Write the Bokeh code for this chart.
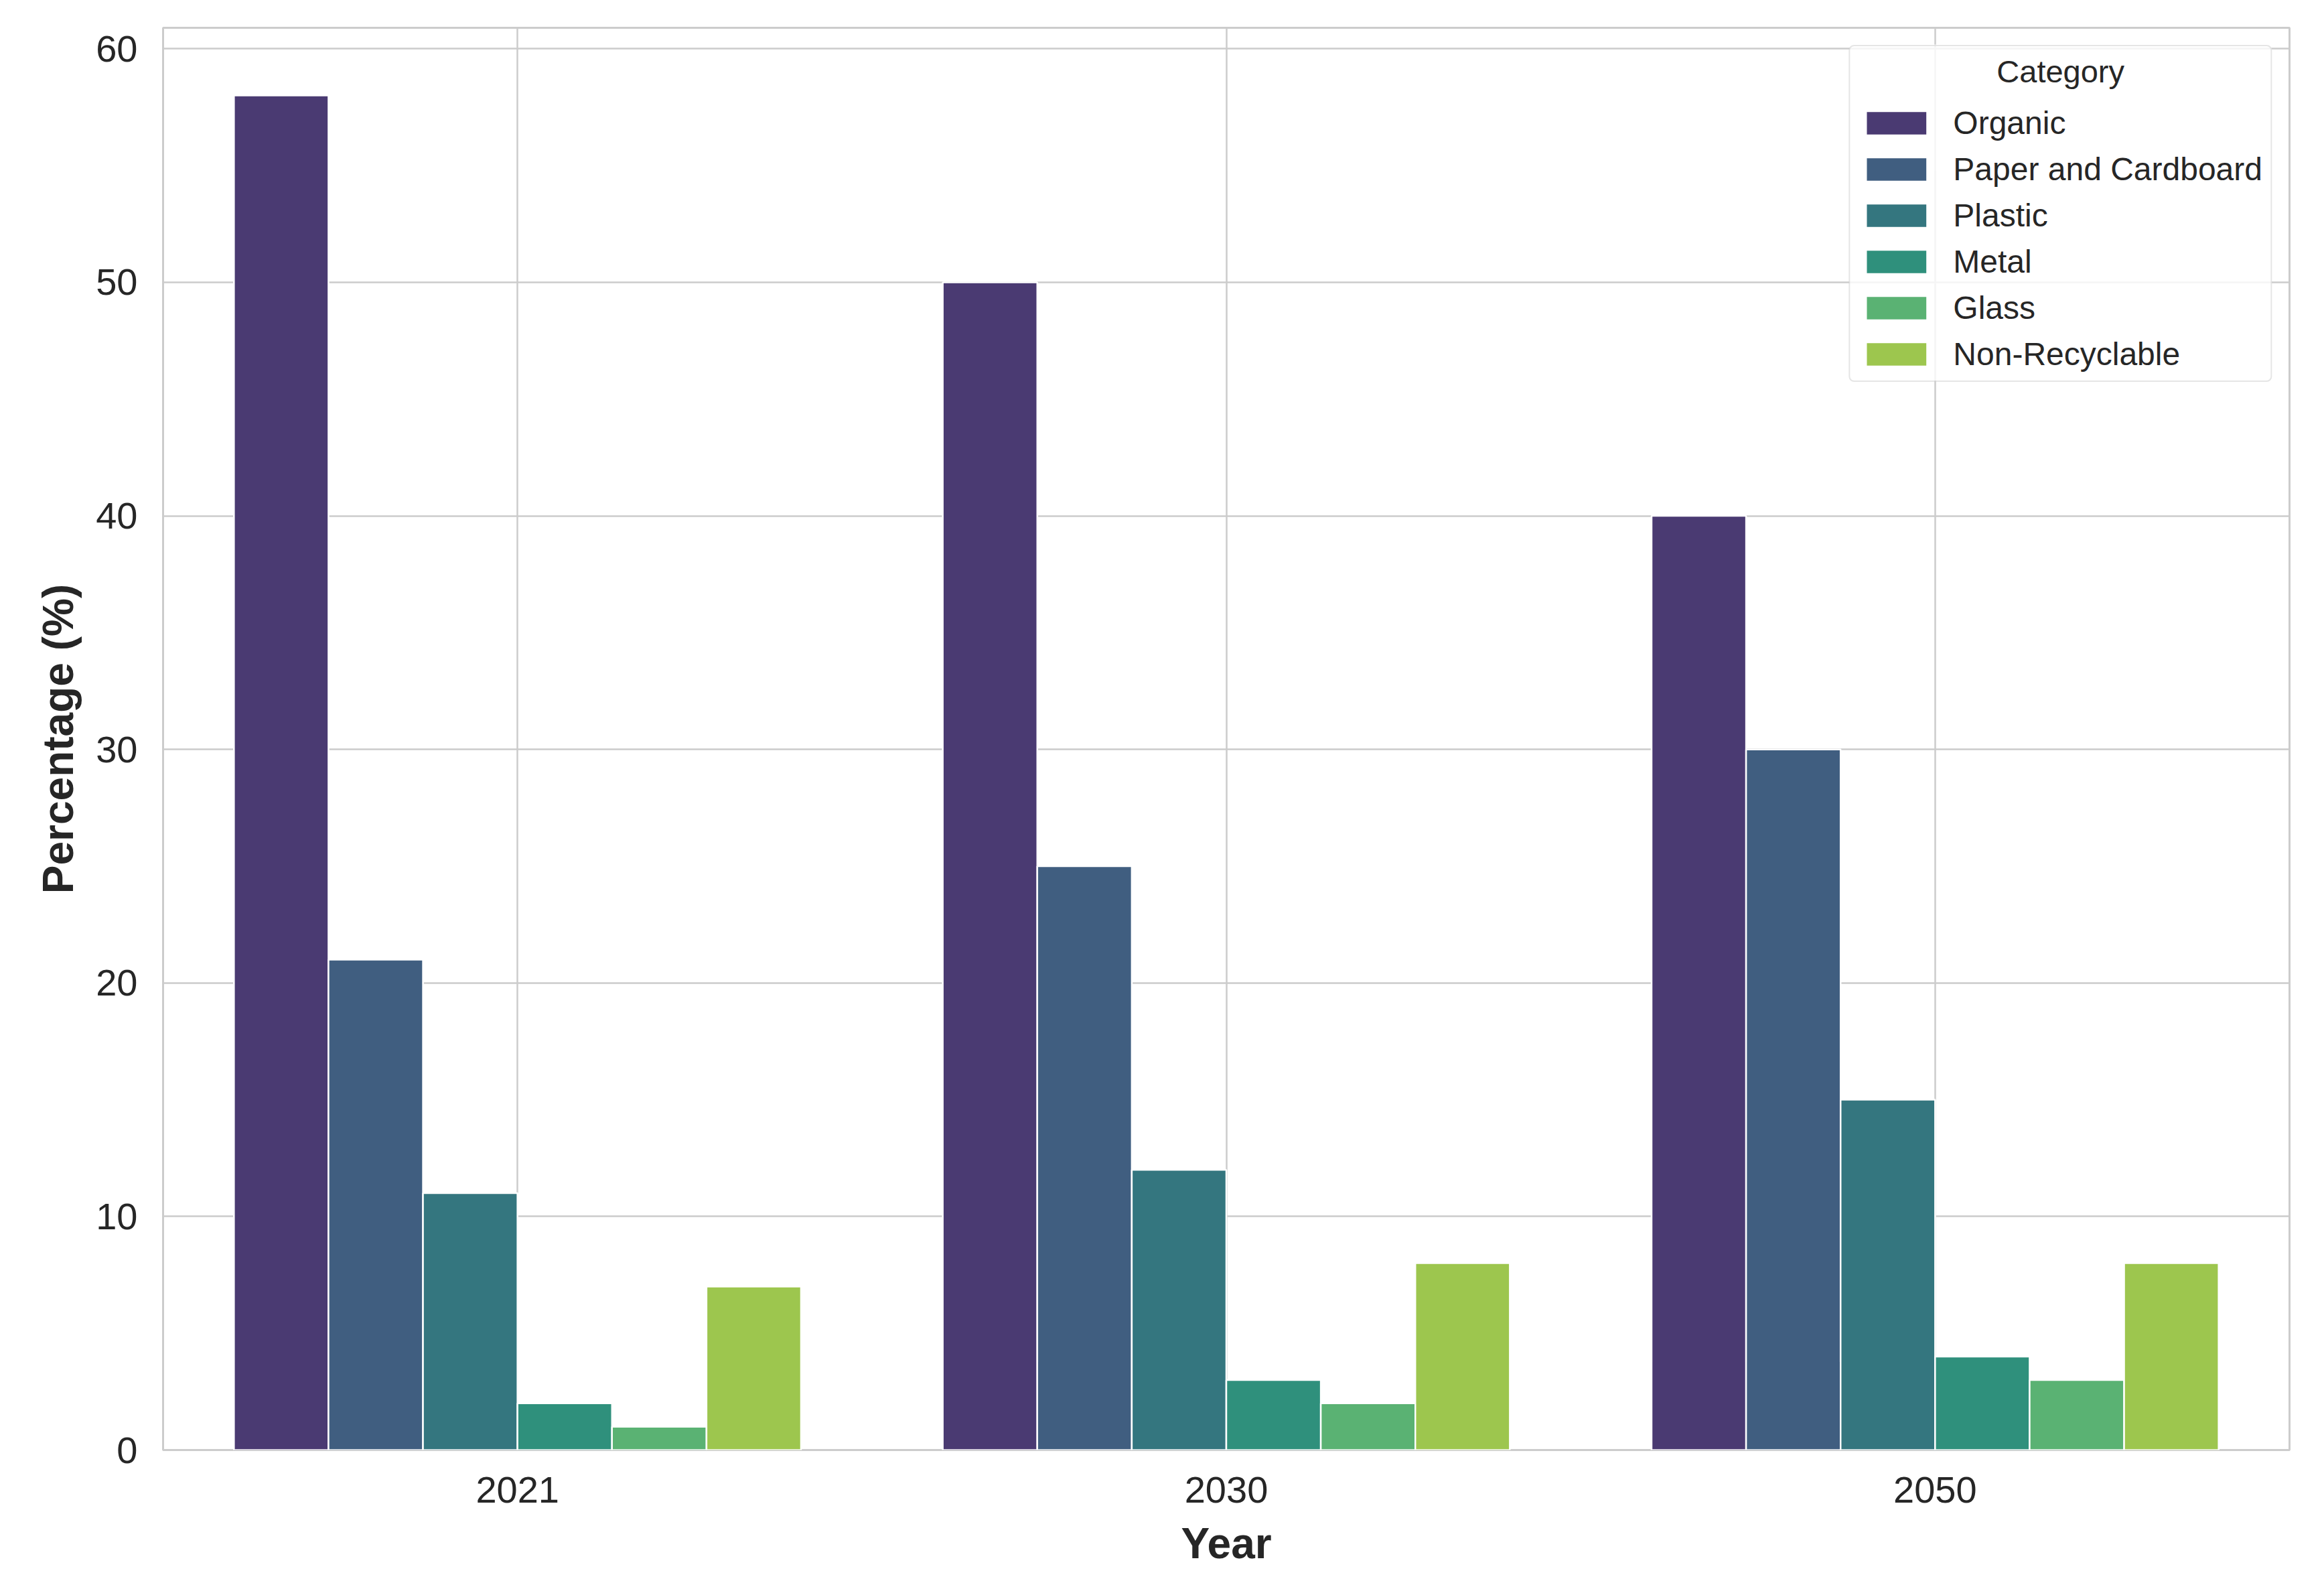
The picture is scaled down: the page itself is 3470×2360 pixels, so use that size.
from bokeh.plotting import figure
from bokeh.models import ColumnDataSource, FactorRange, FixedTicker, Legend, LegendItem, Label, BoxAnnotation
from bokeh.transform import dodge
from bokeh.embed import file_html
from bokeh.resources import INLINE

years = ["2021", "2030", "2050"]
categories = ["Organic", "Paper and Cardboard", "Plastic", "Metal", "Glass", "Non-Recyclable"]
organic = [58, 50, 40]
paper_cardboard = [21, 25, 30]
plastic = [11, 12, 15]
metal = [2, 3, 4]
glass = [1, 2, 3]
non_recyclable = [7, 8, 8]
y_ticks = [0, 10, 20, 30, 40, 50, 60]
legend_title = "Category"

colors = ["#4a3a72", "#405e80", "#34767f", "#2f907c", "#5ab273", "#9dc64e"]
keys = ["organic", "paper", "plastic", "metal", "glass", "nonrec"]

source = ColumnDataSource(data=dict(
    year=years, organic=organic, paper=paper_cardboard, plastic=plastic,
    metal=metal, glass=glass, nonrec=non_recyclable,
))

FONT = "Liberation Sans"
TXT = "#262626"

p = figure(width=3454, height=2344, output_backend="svg", toolbar_location=None,
           x_range=FactorRange(factors=years, range_padding=0),
           y_range=(0, 60.9),
           min_border_left=243, min_border_right=36, min_border_top=41, min_border_bottom=180)

p.background_fill_color = "white"
p.border_fill_color = "white"
p.outline_line_color = "#cccccc"
p.outline_line_width = 3

# semi-opaque white backing of the legend box (gridlines show through faintly)
legend_back = BoxAnnotation(left=2.379, right=2.975, bottom=45.78, top=60.18,
                            fill_color="white", fill_alpha=0.8, line_color=None,
                            border_radius=8, level="underlay")
p.add_layout(legend_back)

n = len(categories)
bw = 0.8 / n
items = []
for i, (k, c, name) in enumerate(zip(keys, colors, categories)):
    off = -0.4 + bw * (i + 0.5)
    r = p.vbar(x=dodge("year", off, range=p.x_range), top=k, width=bw, source=source,
               fill_color=c, line_color="white", line_width=2.5)
    items.append(LegendItem(label=name, renderers=[r]))

# title placeholder (reserves room); the visible, centred title is a Label below
legend = Legend(items=items, location="top_right", title="\u00a0")
legend.margin = 26
legend.padding = 12
legend.glyph_width = 114
legend.glyph_height = 45
legend.label_height = 45
legend.spacing = 14
legend.label_standoff = 28
legend.label_text_font = FONT
legend.label_text_font_size = "48px"
legend.label_text_color = TXT
legend.title_text_font = FONT
legend.title_text_font_size = "47px"
legend.title_text_font_style = "normal"
legend.title_text_color = TXT
legend.title_standoff = 20
legend.border_line_color = "#cccccc"
legend.border_line_width = 2.5
legend.border_radius = 8
legend.background_fill_color = "white"
legend.background_fill_alpha = 0.0
p.add_layout(legend)

title_lbl = Label(x=2.677, y=59.03, text=legend_title, text_align="center", text_baseline="middle",
                  text_font=FONT, text_font_size="47px", text_color=TXT, text_alpha=1.0)
p.add_layout(title_lbl)

p.yaxis.ticker = FixedTicker(ticks=y_ticks)
for ax in (p.xaxis, p.yaxis):
    ax.axis_line_color = None
    ax.major_tick_line_color = None
    ax.minor_tick_line_color = None
    ax.major_tick_out = 0
    ax.major_tick_in = 0
    ax.major_label_text_font = FONT
    ax.major_label_text_font_size = "56px"
    ax.major_label_text_color = TXT
    ax.axis_label_text_font = FONT
    ax.axis_label_text_font_size = "64px"
    ax.axis_label_text_font_style = "bold"
    ax.axis_label_text_color = TXT

p.xaxis.axis_label = "Year"
p.yaxis.axis_label = "Percentage (%)"
p.yaxis.major_label_standoff = 38
p.xaxis.major_label_standoff = 40
p.xaxis.axis_label_standoff = 22
p.yaxis.axis_label_standoff = 17

p.xgrid.grid_line_color = "#cccccc"
p.ygrid.grid_line_color = "#cccccc"
p.xgrid.grid_line_width = 2.5
p.ygrid.grid_line_width = 2.5

open("out.html", "w").write(file_html(p, INLINE))
